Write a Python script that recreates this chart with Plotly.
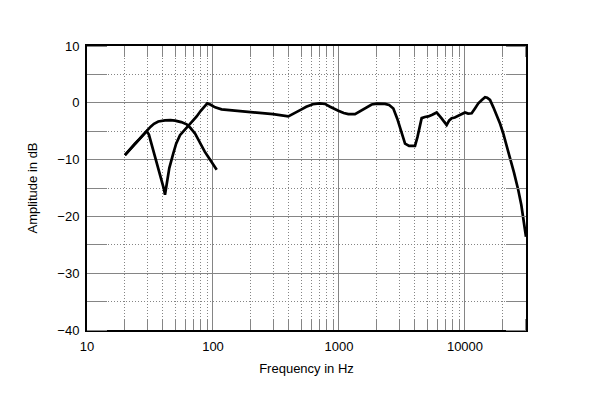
import plotly.graph_objects as go
import numpy as np

# Port (nearfield) response
port_freq = [20, 22, 24, 26, 28, 29.8, 32, 34, 36.8, 41.6, 46, 50, 56, 61.8, 66, 72, 76, 81.3, 86, 91.5, 99, 107]
port_db = [-9.2, -8.1, -7.2, -6.4, -5.6, -4.9, -4.2, -3.7, -3.3, -3.1, -3.05, -3.15, -3.4, -3.8, -4.4, -5.4,
           -6.4, -7.7, -8.6, -9.5, -10.7, -11.8]

# Woofer nearfield spliced to the farfield response
main_freq = [20, 22, 24, 26, 28, 29.8, 31, 32.5, 34.7, 37, 39.2, 40.8, 41.6, 42.5, 43.5, 45, 48.4, 51, 54.7,
             59.9, 63.7, 68, 74.2, 80, 86.5, 90, 95, 104, 117, 200, 300, 396, 450, 500, 550, 620, 700, 774,
             850, 920, 988, 1090, 1186, 1340, 1500, 1650, 1816, 2000, 2318, 2500, 2700, 2900, 3100, 3345,
             3600, 4012, 4200, 4400, 4530, 4800, 5114, 5500, 5960, 6500, 7155, 7500, 7840, 8300, 8850,
             9300, 9700, 10000, 10600, 11300, 12000, 12760, 13600, 14430, 15000, 15800, 16800, 17830,
             19000, 20130, 21500, 22740, 24500, 26500, 28000, 29400, 30500]
main_db = [-9.2, -8.2, -7.3, -6.5, -5.7, -5.0, -5.6, -7.2, -9.5, -11.8, -13.6, -15.2, -16.2, -15.0, -13.5,
           -11.5, -8.9, -7.2, -5.7, -4.7, -4.2, -3.4, -2.4, -1.4, -0.4, -0.1, -0.3, -0.8, -1.15, -1.6, -2.0,
           -2.4, -1.8, -1.2, -0.7, -0.25, -0.1, -0.2, -0.7, -1.0, -1.4, -1.8, -2.0, -2.0, -1.4, -0.8, -0.3,
           -0.15, -0.2, -0.4, -1.0, -2.8, -5.0, -7.2, -7.6, -7.6, -6.0, -3.8, -2.7, -2.5, -2.4, -2.1, -1.7,
           -2.7, -3.9, -3.1, -2.7, -2.6, -2.3, -2.0, -1.85, -1.7, -1.9, -1.85, -1.0, -0.1, 0.5, 1.0, 0.9,
           0.5, -0.8, -2.1, -3.7, -5.4, -7.6, -9.5, -12.3, -15.4, -18.0, -21.2, -23.6]

x_tick_vals = [10, 100, 1000, 10000]
x_tick_text = ["10", "100", "1000", "10000"]
x_minor_vals = [m * d for d in (10, 100, 1000, 10000) for m in range(2, 10) if m * d <= 30000]
y_tick_vals = [-40, -30, -20, -10, 0, 10]

fig = go.Figure()
fig.add_trace(go.Scatter(x=port_freq, y=port_db, mode="lines",
                         line=dict(color="black", width=2.7)))
fig.add_trace(go.Scatter(x=main_freq, y=main_db, mode="lines",
                         line=dict(color="black", width=2.7)))

grid_col = "#858585"
dot = "1px,2px"
fig.update_layout(
    width=600, height=404,
    margin=dict(l=87, r=74, t=46, b=74),
    paper_bgcolor="white", plot_bgcolor="white",
    showlegend=False,
    font=dict(family="Liberation Sans, Arial, sans-serif", size=13, color="black"),
)
fig.update_xaxes(
    type="log", range=[1, np.log10(30500)],
    tickmode="array", tickvals=x_tick_vals, ticktext=x_tick_text,
    ticks="", showgrid=True, gridcolor=grid_col, gridwidth=1,
    showline=True, linecolor="black", linewidth=2, mirror="allticks",
    zeroline=False, ticklabelstandoff=3,
    minor=dict(tickmode="array", tickvals=x_minor_vals, showgrid=True, griddash=dot,
               gridcolor=grid_col, gridwidth=1, ticks="inside", ticklen=11,
               tickcolor=grid_col, tickwidth=1),
    title=dict(text="Frequency in Hz", standoff=11, font=dict(size=13)),
    tickfont=dict(size=13),
)
fig.update_yaxes(
    range=[-40, 10], tickmode="array", tickvals=y_tick_vals,
    ticks="", showgrid=True, gridcolor=grid_col, gridwidth=1,
    showline=True, linecolor="black", linewidth=2, mirror="allticks",
    zeroline=False, ticklabelstandoff=3,
    minor=dict(dtick=5, showgrid=True, griddash=dot, gridcolor=grid_col, gridwidth=1,
               ticks="inside", ticklen=20, tickcolor=grid_col, tickwidth=1),
    title=dict(text="Amplitude in dB", standoff=17, font=dict(size=13)),
    tickfont=dict(size=13),
)

fig.write_html("out.html")
